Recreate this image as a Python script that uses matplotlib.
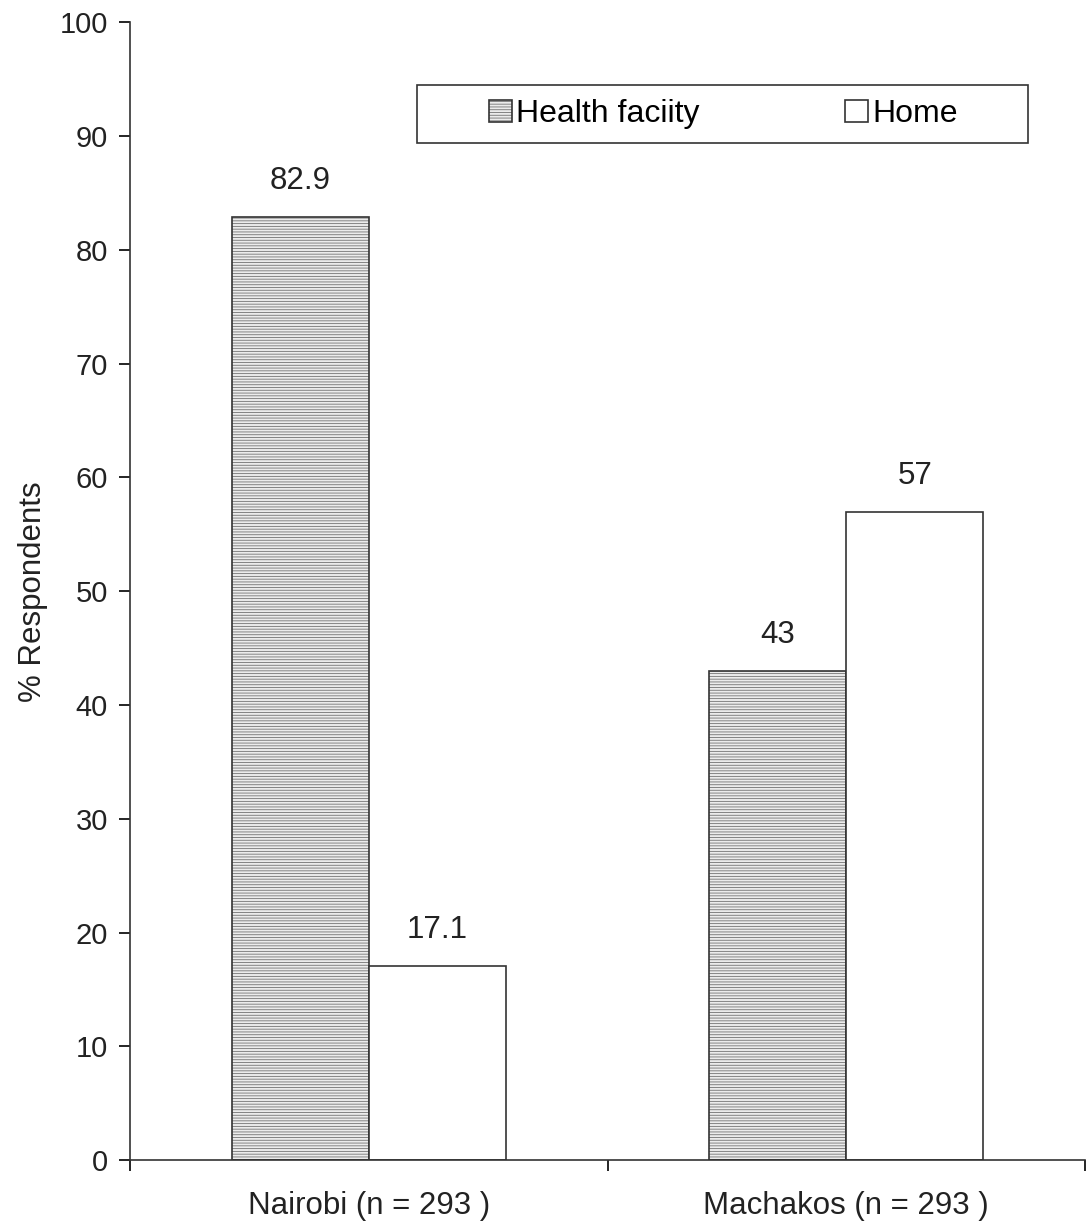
import matplotlib.pyplot as plt
from matplotlib.patches import Rectangle
import numpy as np

plt.rcParams['font.family'] = ['Liberation Sans', 'DejaVu Sans']
plt.rcParams['hatch.linewidth'] = 0.6

categories = ['Nairobi (n = 293 )', 'Machakos (n = 293 )']
health_facility = [82.9, 43]
home = [17.1, 57]
value_labels_hf = ['82.9', '43']
value_labels_home = ['17.1', '57']

fs = 21
fs_big = 22.5
txt = '#222222'

fig = plt.figure(figsize=(10.89, 12.22), dpi=100)
ax = fig.add_axes([0.1194, 0.0507, 0.877, 0.931])

x = np.arange(len(categories))
w = 0.287

b1 = ax.bar(x - w/2, health_facility, w, color='#ececec', edgecolor='#333333',
            hatch='------', linewidth=1.2, label='Health faciity')
b2 = ax.bar(x + w/2, home, w, color='white', edgecolor='#333333',
            linewidth=1.2, label='Home')
for b in b1:
    b._hatch_color = (0.45, 0.45, 0.45, 1)

for xi, v, t in zip(x - w/2, health_facility, value_labels_hf):
    ax.text(xi, v + 1.8, t, ha='center', va='bottom', fontsize=fs_big, color=txt)
for xi, v, t in zip(x + w/2, home, value_labels_home):
    ax.text(xi, v + 1.8, t, ha='center', va='bottom', fontsize=fs_big, color=txt)

ax.set_xlim(-0.5, 1.5)
ax.set_ylim(0, 100)
ax.set_yticks(np.arange(0, 101, 10))
ax.tick_params(axis='y', labelsize=fs, length=8, width=1.2, direction='out', pad=8,
               labelcolor=txt)
ax.set_xticks([-0.5, 0.5, 1.5])
ax.set_xticklabels([])
ax.tick_params(axis='x', which='major', length=8, width=1.2, direction='out')
ax.set_xticks(x, minor=True)
ax.set_xticklabels(categories, minor=True)
ax.tick_params(axis='x', which='minor', length=0, labelsize=fs_big, pad=22,
               labelcolor=txt)

for s in ['top', 'right']:
    ax.spines[s].set_visible(False)
for s in ['left', 'bottom']:
    ax.spines[s].set_linewidth(1.2)
    ax.spines[s].set_color('#333333')

ax.set_ylabel('% Respondents', fontsize=fs_big, color=txt, labelpad=8)

# legend box drawn separately so its size matches the reference
ax.add_patch(Rectangle((0.3005, 0.8937), 0.64, 0.051, transform=ax.transAxes,
                       facecolor='white', edgecolor='#333333', linewidth=1.2,
                       zorder=4))
leg = ax.legend(loc='center', bbox_to_anchor=(0.6215, 0.9192),
                ncol=2, fontsize=23, frameon=False,
                handlelength=0.7, handleheight=0.7,
                handletextpad=0.15, columnspacing=4.55)
leg.set_zorder(5)

fig.savefig('out.png', dpi=100)
